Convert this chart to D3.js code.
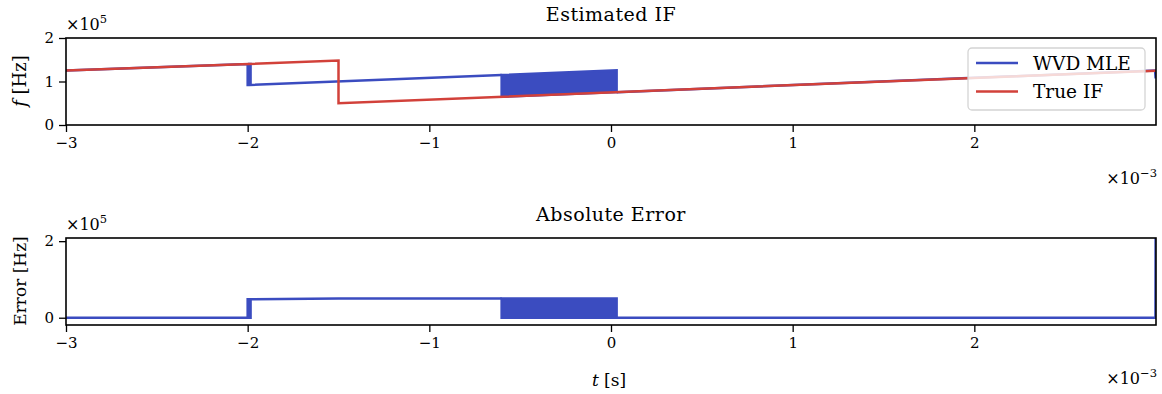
<!DOCTYPE html>
<html>
<head>
<meta charset="utf-8">
<script src="https://cdn.jsdelivr.net/npm/d3@7"></script>
<style>
  body { margin: 0; background: #fff; }
  text { font-family: "DejaVu Serif", "Liberation Serif", serif; fill: #000; }
</style>
</head>
<body>
<script>
// time in ms (axis shows x10^-3 s), frequency / error in units of 1e5 Hz
const trueT = [-3.0, -1.5, -1.5, 3.0];
const trueF = [1.25, 1.48, 0.50, 1.25];

const mleT = [-3.0, -2.0, -2.0, -1.992, -1.992, -1.984, -1.984, -0.602];
const mleF = [1.25, 1.403, 0.92, 0.92, 1.403, 1.403, 0.92, 1.15];
const mleT2 = [0.031, 2.995, 2.998];
const mleF2 = [0.755, 1.25, 1.07];

// dense oscillation between the two tracks
const bandT = [-0.602, 0.031];
const bandHi = [1.15, 1.255];
const bandLo = [0.65, 0.755];

const errT = [-3.0, -2.0, -2.0, -1.992, -1.992, -1.984, -1.984, -1.5, -0.602];
const errV = [0, 0, 0.48, 0.48, 0, 0, 0.48, 0.5, 0.5];
const errT2 = [0.031, 2.997, 2.998];
const errV2 = [0, 0, 2.5];
const errBandT = [-0.602, 0.031];
const errBandHi = [0.5, 0.5];
const errBandLo = [0, 0];

const xTicks = [-3, -2, -1, 0, 1, 2];
const topYTicks = [0, 1, 2];
const botYTicks = [0, 2];

const blue = "#3b4cc0";
const red = "#d2413a";

const W = 1162, H = 394;
const left = 66, right = 1156;

const svg = d3.select("body").append("svg")
  .attr("width", W).attr("height", H);

const x = d3.scaleLinear().domain([-3, 3]).range([left, right]);

const zip = (a, b) => a.map((v, i) => [v, b[i]]);
const minus = d => d < 0 ? "\u2212" + Math.abs(d) : String(d);

function panel(top, bottom, yDomain, yTicks, id) {
  const y = d3.scaleLinear().domain(yDomain).range([bottom, top]);
  const g = svg.append("g");

  g.append("clipPath").attr("id", id)
    .append("rect").attr("x", left).attr("y", top)
    .attr("width", right - left).attr("height", bottom - top);

  const plot = g.append("g").attr("clip-path", `url(#${id})`);

  const xAxis = d3.axisBottom(x).tickValues(xTicks).tickSize(7).tickPadding(5)
    .tickFormat(minus);
  const yAxis = d3.axisLeft(y).tickValues(yTicks).tickSize(7).tickPadding(5)
    .tickFormat(minus);

  const gx = g.append("g").attr("transform", `translate(0,${bottom})`).call(xAxis);
  const gy = g.append("g").attr("transform", `translate(${left},0)`).call(yAxis);
  [gx, gy].forEach(a => {
    a.select(".domain").remove();
    a.selectAll("line").attr("stroke", "#000").attr("stroke-width", 1.3);
    a.selectAll("text").style("font-size", "15px").attr("font-family", null);
  });

  g.append("rect").attr("x", left).attr("y", top)
    .attr("width", right - left).attr("height", bottom - top)
    .attr("fill", "none").attr("stroke", "#000").attr("stroke-width", 1.6);

  return { y, plot, g };
}

function drawLine(p, y, pts, color) {
  p.append("path").datum(pts)
    .attr("d", d3.line().x(d => x(d[0])).y(d => y(d[1])))
    .attr("fill", "none").attr("stroke", color)
    .attr("stroke-width", 2.5).attr("stroke-linejoin", "miter");
}

function drawBand(p, y, t, hi, lo, color) {
  const pts = t.map((v, i) => [v, hi[i], lo[i]]);
  p.append("path").datum(pts)
    .attr("d", d3.area().x(d => x(d[0])).y0(d => y(d[2])).y1(d => y(d[1])))
    .attr("fill", color).attr("stroke", color).attr("stroke-width", 2.5);
}

// --- top panel
const A = panel(38, 125, [0, 2], topYTicks, "clipA");
drawLine(A.plot, A.y, zip(mleT, mleF), blue);
drawBand(A.plot, A.y, bandT, bandHi, bandLo, blue);
drawLine(A.plot, A.y, zip(mleT2, mleF2), blue);
drawLine(A.plot, A.y, zip(trueT, trueF), red);

// --- bottom panel
const B = panel(238, 325, [-0.19, 2.083], botYTicks, "clipB");
drawLine(B.plot, B.y, zip(errT, errV), blue);
drawBand(B.plot, B.y, errBandT, errBandHi, errBandLo, blue);
drawLine(B.plot, B.y, zip(errT2, errV2), blue);

// titles and labels
const mid = (left + right) / 2;
svg.append("text").attr("x", mid).attr("y", 21).attr("text-anchor", "middle")
  .style("font-size", "19px").style("letter-spacing", "0.5px").text("Estimated IF");
svg.append("text").attr("x", mid).attr("y", 221).attr("text-anchor", "middle")
  .style("font-size", "19px").style("letter-spacing", "0.5px").text("Absolute Error");

function multiplier(xp, yp, exp, anchor) {
  const t = svg.append("text").attr("x", xp).attr("y", yp)
    .attr("text-anchor", anchor).style("font-size", "16px");
  t.append("tspan").text("\u00d710");
  t.append("tspan").attr("dy", -7).style("font-size", "11.5px").text(exp);
}
multiplier(66, 30, "5", "start");
multiplier(66, 230, "5", "start");
multiplier(1157, 184, "\u22123", "end");
multiplier(1157, 384, "\u22123", "end");

const yl1 = svg.append("text").attr("transform", "translate(26,81) rotate(-90)")
  .attr("text-anchor", "middle").style("font-size", "18px");
yl1.append("tspan").style("font-style", "italic").text("f");
yl1.append("tspan").text(" [Hz]");

svg.append("text").attr("transform", "translate(26,281) rotate(-90)")
  .attr("text-anchor", "middle").style("font-size", "17px").text("Error [Hz]");

const xl = svg.append("text").attr("x", 609).attr("y", 386)
  .attr("text-anchor", "middle").style("font-size", "17px");
xl.append("tspan").style("font-style", "italic").text("t");
xl.append("tspan").text(" [s]");

// legend
const lg = svg.append("g").attr("transform", "translate(968,48)");
lg.append("rect").attr("width", 177).attr("height", 62).attr("rx", 4)
  .attr("fill", "#fff").attr("fill-opacity", 0.8)
  .attr("stroke", "#d4d4d4").attr("stroke-width", 1.3);
const legendItems = [["WVD MLE", blue], ["True IF", red]];
legendItems.forEach((d, i) => {
  const yy = 15 + i * 28.5;
  lg.append("line").attr("x1", 8).attr("x2", 50).attr("y1", yy).attr("y2", yy)
    .attr("stroke", d[1]).attr("stroke-width", 2.5);
  lg.append("text").attr("x", 65).attr("y", yy + 6.5).style("font-size", "18.5px").text(d[0]);
});
</script>
</body>
</html>
